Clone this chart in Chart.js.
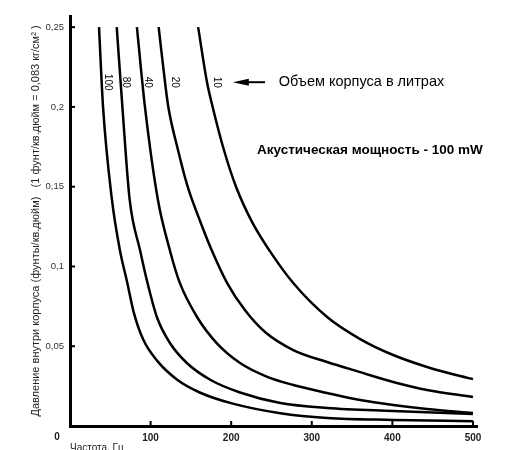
<!DOCTYPE html>
<html>
<head>
    <meta charset="utf-8">
    <title>Давление внутри корпуса</title>
    <script src="https://cdn.jsdelivr.net/npm/chart.js@4.4.1/dist/chart.umd.min.js"></script>
    <style>
        body {
            margin: 0;
            background-color: #fff;
        }
        #chart {
            display: block;
        }
    </style>
</head>
<body>
    <canvas id="chart" width="510" height="450"></canvas>

    <script>
        // curve data: frequency (Hz) and pressure for each cabinet volume (litres)
        const freq100 = [36, 41, 52, 62, 71, 79, 91, 108, 133, 161, 202, 261, 319, 401, 500];
        const pres100 = [0.25, 0.2, 0.142, 0.110, 0.090, 0.0714, 0.054, 0.041, 0.029, 0.021, 0.014, 0.008, 0.005, 0.0038, 0.003];

        const freq80 = [58, 65, 74, 87, 96, 108, 124, 145, 174, 211, 261, 319, 401, 500];
        const pres80 = [0.25, 0.2, 0.142, 0.110, 0.090, 0.068, 0.052, 0.0395, 0.029, 0.021, 0.0144, 0.0113, 0.0094, 0.0075];

        const freq40 = [83, 93, 109, 124, 136, 158, 182, 211, 244, 277, 319, 360, 401, 443, 500];
        const pres40 = [0.25, 0.2, 0.142, 0.110, 0.090, 0.068, 0.052, 0.0395, 0.031, 0.0257, 0.0207, 0.0163, 0.0132, 0.0107, 0.0081];

        const freq20 = [110, 118, 122, 134, 146, 161, 176, 195, 217, 242, 277, 319, 360, 401, 443, 500];
        const pres20 = [0.25, 0.215, 0.2, 0.173, 0.15, 0.129, 0.110, 0.0896, 0.0727, 0.0589, 0.0476, 0.0401, 0.0338, 0.0276, 0.0226, 0.0182];

        const freq10 = [159, 170, 177, 191, 206, 226, 248, 277, 319, 360, 401, 443, 484, 500];
        const pres10 = [0.25, 0.2155, 0.2, 0.173, 0.15, 0.1278, 0.1096, 0.0896, 0.0683, 0.0545, 0.0445, 0.037, 0.0313, 0.0294];

        const volumes = ['100', '80', '40', '20', '10'];
        const curveFreqs = [freq100, freq80, freq40, freq20, freq10];
        const curvePres = [pres100, pres80, pres40, pres20, pres10];

        const xTickValues = [100, 200, 300, 400, 500];
        const xTickLabels = ['100', '200', '300', '400', '500'];
        const yTickValues = [0.05, 0.1, 0.15, 0.2, 0.25];
        const yTickLabels = ['0,05', '0,1', '0,15', '0,2', '0,25'];

        const yTitle = 'Давление внутри корпуса (фунты/кв.дюйм)   (1 фунт/кв.дюйм = 0,083 кг/см² )';
        const xTitle = 'Частота, Гц';
        const volumeNote = 'Объем корпуса в литрах';
        const powerNote = 'Акустическая мощность - 100 mW';

        const FONT = '"Liberation Sans", Arial, sans-serif';

        // labels, arrow, inner ticks drawn on top of the chart
        const overlay = {
            id: 'overlay',
            afterDraw(chart) {
                const ctx = chart.ctx;
                const x = chart.scales.x;
                const y = chart.scales.y;
                ctx.save();

                // tick marks point inward
                ctx.strokeStyle = '#000';
                ctx.lineWidth = 2;
                xTickValues.forEach(v => {
                    const px = x.getPixelForValue(v);
                    ctx.beginPath();
                    ctx.moveTo(px, y.bottom);
                    ctx.lineTo(px, y.bottom - 5);
                    ctx.stroke();
                });
                yTickValues.forEach(v => {
                    const py = y.getPixelForValue(v);
                    ctx.beginPath();
                    ctx.moveTo(x.left, py);
                    ctx.lineTo(x.left + 5, py);
                    ctx.stroke();
                });

                // shared zero in the corner
                ctx.fillStyle = '#222';
                ctx.font = 'bold 10px ' + FONT;
                ctx.textAlign = 'center';
                ctx.textBaseline = 'middle';
                ctx.fillText('0', x.left - 13, y.bottom + 11);

                // volume labels along the curves
                const labelFreqs = [47, 69, 97, 130, 182];
                const labelY = y.getPixelForValue(0.2155);
                ctx.fillStyle = '#000';
                ctx.font = '10px ' + FONT;
                volumes.forEach((vol, i) => {
                    ctx.save();
                    ctx.translate(x.getPixelForValue(labelFreqs[i]), labelY);
                    ctx.rotate(Math.PI / 2);
                    ctx.fillText(vol, 0, 0);
                    ctx.restore();
                });

                // arrow pointing at the labels
                const ax0 = x.getPixelForValue(202);
                const ax1 = x.getPixelForValue(242);
                ctx.lineWidth = 2;
                ctx.beginPath();
                ctx.moveTo(ax0 + 12, labelY);
                ctx.lineTo(ax1, labelY);
                ctx.stroke();
                ctx.beginPath();
                ctx.moveTo(ax0, labelY);
                ctx.lineTo(ax0 + 16, labelY - 3.5);
                ctx.lineTo(ax0 + 16, labelY + 3.5);
                ctx.closePath();
                ctx.fill();

                ctx.textAlign = 'left';
                ctx.font = '14.5px ' + FONT;
                ctx.fillText(volumeNote, x.getPixelForValue(259), labelY);

                ctx.font = 'bold 13.5px ' + FONT;
                ctx.fillText(powerNote, x.getPixelForValue(232), y.getPixelForValue(0.173));

                ctx.restore();
            }
        };

        const datasets = volumes.map((vol, i) => ({
            label: vol,
            data: curveFreqs[i].map((f, j) => ({x: f, y: curvePres[i][j]})),
            borderColor: '#000',
            borderWidth: 2.5,
            pointRadius: 0,
            fill: false,
            cubicInterpolationMode: 'monotone'
        }));

        const ctx = document.getElementById('chart').getContext('2d');
        new Chart(ctx, {
            type: 'line',
            data: { datasets: datasets },
            options: {
                responsive: false,
                animation: false,
                devicePixelRatio: 1,
                layout: {
                    padding: { top: 16, right: 33, left: 0, bottom: 0 }
                },
                plugins: {
                    legend: { display: false },
                    tooltip: { enabled: false }
                },
                scales: {
                    x: {
                        type: 'linear',
                        min: 0,
                        max: 505,
                        afterBuildTicks: scale => {
                            scale.ticks = xTickValues.map(v => ({ value: v }));
                        },
                        afterFit: scale => { scale.height = 24; },
                        grid: { display: false, drawTicks: false },
                        border: { display: true, color: '#000', width: 3 },
                        ticks: {
                            padding: 6,
                            color: '#222',
                            font: { family: FONT, size: 10, weight: 'bold' },
                            maxRotation: 0,
                            callback: (v, i) => xTickLabels[i]
                        },
                        title: {
                            display: true,
                            text: xTitle,
                            align: 'start',
                            color: '#222',
                            font: { family: FONT, size: 10 },
                            padding: { top: 0, bottom: -4 }
                        }
                    },
                    y: {
                        type: 'linear',
                        min: 0,
                        max: 0.257,
                        afterBuildTicks: scale => {
                            scale.ticks = yTickValues.map(v => ({ value: v }));
                        },
                        afterFit: scale => { scale.width = 70; },
                        grid: { display: false, drawTicks: false },
                        border: { display: true, color: '#000', width: 3 },
                        ticks: {
                            padding: 6,
                            color: '#333',
                            font: { family: FONT, size: 9.5 },
                            callback: (v, i) => yTickLabels[i]
                        },
                        title: {
                            display: true,
                            text: yTitle,
                            color: '#222',
                            font: { family: FONT, size: 11 },
                            padding: { top: 29, bottom: 0 }
                        }
                    }
                }
            },
            plugins: [overlay]
        });
    </script>
</body>
</html>
